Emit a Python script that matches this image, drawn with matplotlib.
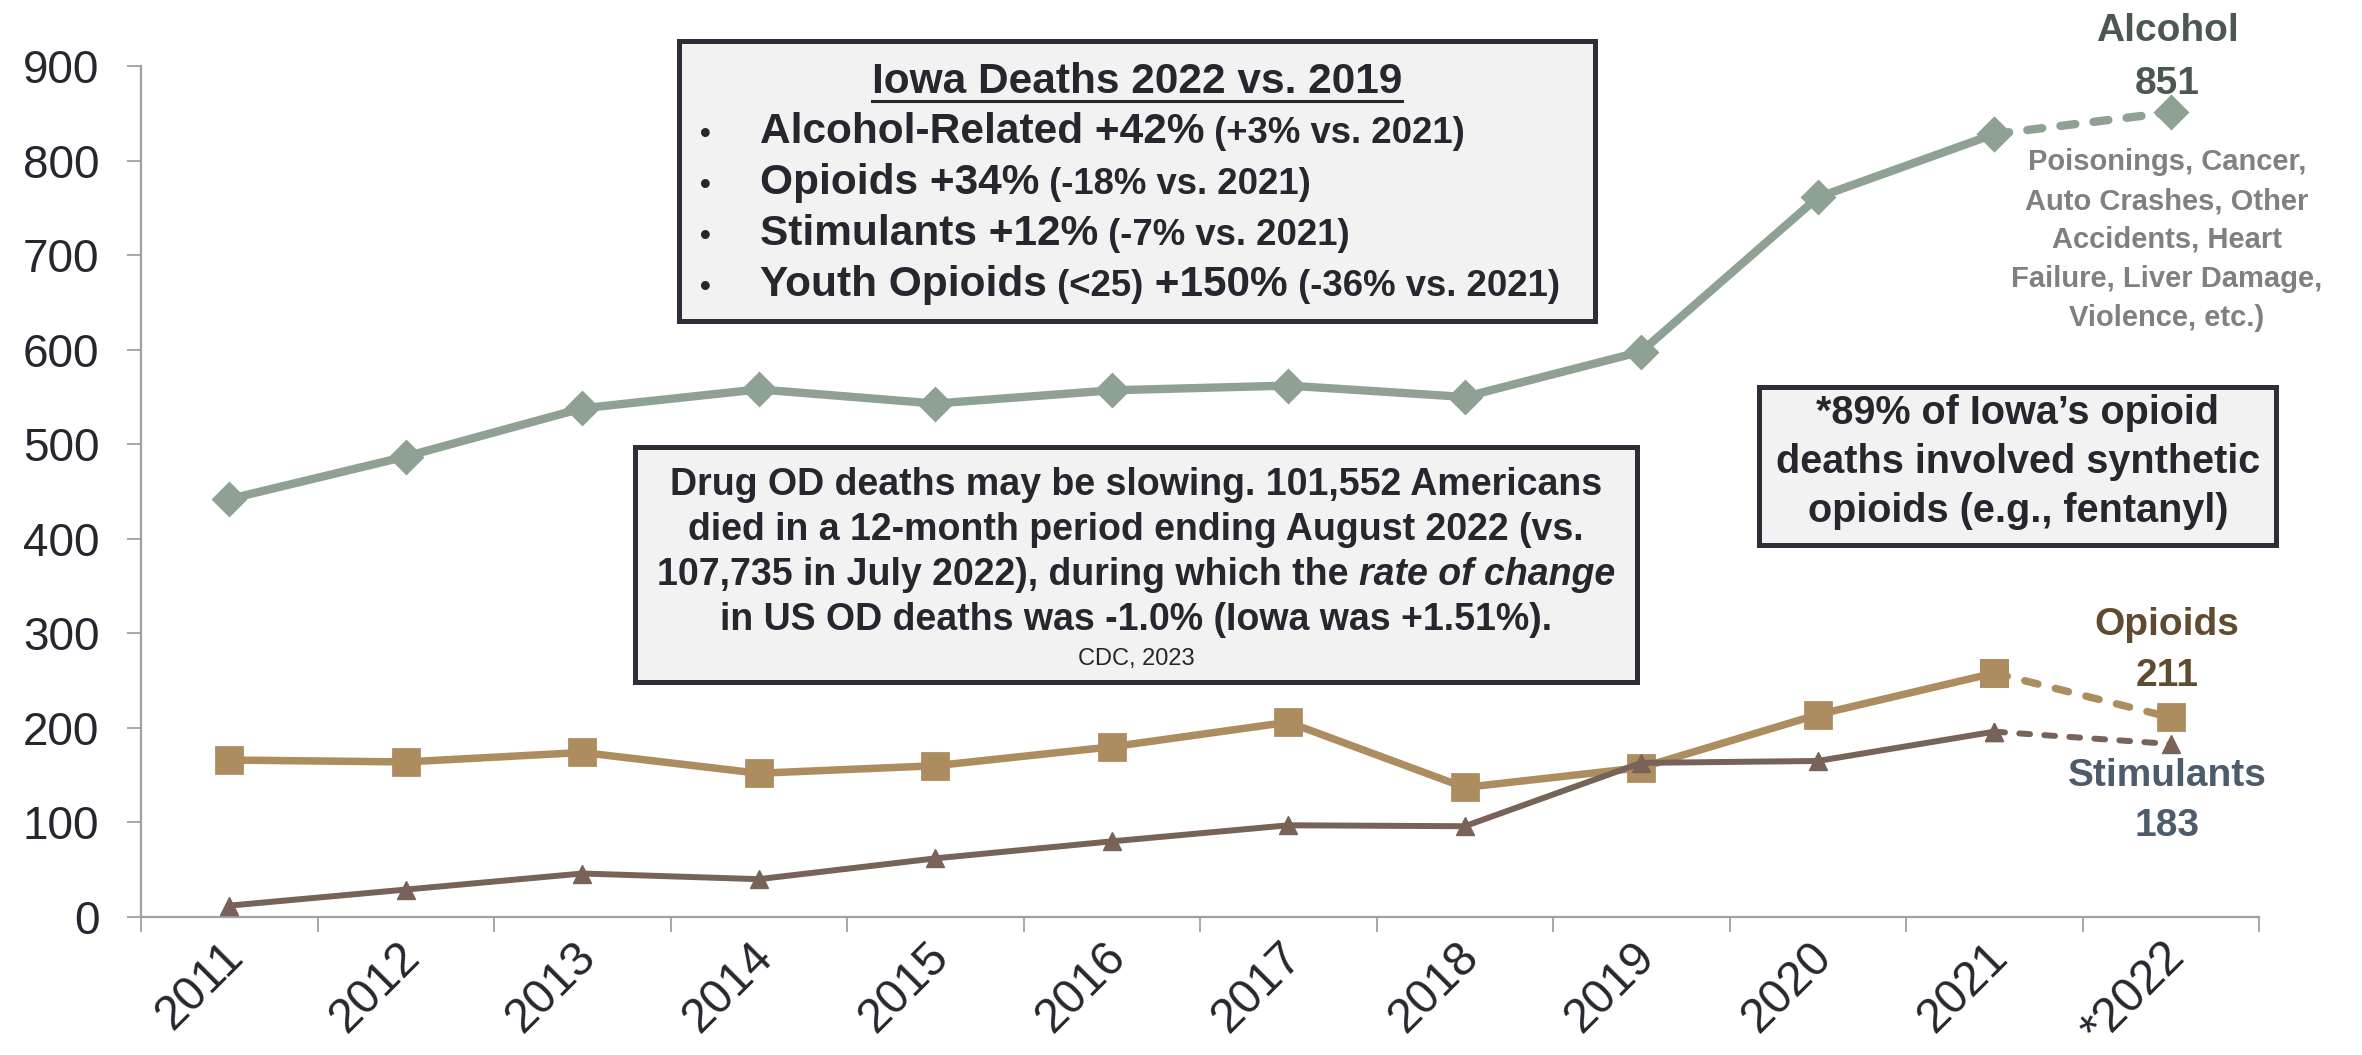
import matplotlib
matplotlib.use("Agg")
import matplotlib.pyplot as plt
from matplotlib import font_manager as fm
from matplotlib.patches import Rectangle
from matplotlib.lines import Line2D
from matplotlib.transforms import IdentityTransform

# Data
years = ['2011', '2012', '2013', '2014', '2015', '2016', '2017', '2018', '2019', '2020', '2021', '*2022']
alcohol = [442, 487, 538, 558, 543, 557, 562, 550, 598, 761, 828, 851]
opioids = [166, 164, 174, 152, 160, 180, 206, 137, 158, 214, 258, 211]
stimulants = [12, 29, 46, 40, 62, 80, 97, 96, 163, 165, 196, 183]
yticks = [0, 100, 200, 300, 400, 500, 600, 700, 800, 900]

W, H = 2362, 1055

def pick(name, fallback):
    try:
        fm.findfont(fm.FontProperties(family=name), fallback_to_default=False)
        return name
    except Exception:
        return fallback

SANS = pick('Liberation Sans', 'DejaVu Sans')
NARROW = pick('Liberation Sans Narrow', SANS)
INK = '#26262f'

c_alc, c_opi, c_sti = '#8ea192', '#ad8d60', '#776358'

fig = plt.figure(figsize=(W / 100, H / 100), dpi=100)
ax = fig.add_axes([141 / W, 1 - 917 / H, (2259 - 141) / W, (917 - 66) / H])

x = list(range(len(years)))
solid = slice(0, 11)
dash = slice(10, 12)

ax.plot(x[solid], alcohol[solid], color=c_alc, lw=6, marker='D', ms=16, mew=2,
        solid_joinstyle='round', zorder=3)
ax.plot(x[dash], alcohol[dash], color=c_alc, lw=6, ls=(0, (1.8, 2.2)), dash_capstyle='round',
        marker='D', ms=16, mew=2, zorder=3)
ax.plot(x[solid], opioids[solid], color=c_opi, lw=5.4, marker='s', ms=19, mew=2,
        solid_joinstyle='round', zorder=3)
ax.plot(x[dash], opioids[dash], color=c_opi, lw=5.4, ls=(0, (1.8, 2.4)), dash_capstyle='round',
        marker='s', ms=19, mew=2, zorder=3)
ax.plot(x[solid], stimulants[solid], color=c_sti, lw=4.3, marker='^', ms=13, mew=1,
        zorder=4)
ax.plot(x[dash], stimulants[dash], color=c_sti, lw=4.3, ls=(0, (1.8, 2.4)), dash_capstyle='round',
        marker='^', ms=13, mew=1, zorder=4)

ax.set_xlim(-0.5, len(years) - 0.5)
ax.set_ylim(0, 900)
ax.set_yticks(yticks)
ax.set_yticklabels([str(v) for v in yticks], fontsize=33, family=SANS, color=INK)
# category boundary ticks, labels hung just right of each category centre
ax.set_xticks([i - 0.5 for i in range(len(years) + 1)], minor=False)
ax.set_xticklabels([''] * (len(years) + 1))
ax.set_xticks([i + 0.13 for i in x], minor=True)
ax.set_xticklabels(years, minor=True, fontsize=34.5, family=SANS, color=INK,
                   rotation=45, ha='right', va='top')
ax.tick_params(axis='x', which='major', length=11, width=1.3, color='#a0a0a0', direction='out')
ax.tick_params(axis='x', which='minor', length=0, pad=12)
ax.tick_params(axis='y', length=10, width=1.3, color='#a0a0a0', pad=20)
for s in ['top', 'right']:
    ax.spines[s].set_visible(False)
for s in ['left', 'bottom']:
    ax.spines[s].set_color('#a0a0a0')
    ax.spines[s].set_linewidth(1.6)

px = IdentityTransform()

def box(x0, y0, x1, y1):
    fig.patches.append(Rectangle((x0, H - y1), x1 - x0, y1 - y0, transform=px,
                                 facecolor='#f2f2f2', edgecolor='#2e2e38', lw=3.6, zorder=5))

def txt(xp, yp, s, **kw):
    kw.setdefault('color', INK)
    return fig.text(xp, H - yp, s, transform=px, zorder=6, **kw)

renderer = fig.canvas.get_renderer()

def runs(xp, yp, parts, center=False):
    # parts: (text, size, weight, style)
    arts = []
    cur = 0
    for s, size, weight, style in parts:
        t = txt(0, yp, s, fontsize=size, fontweight=weight, fontstyle=style,
                family=NARROW, va='baseline', ha='left')
        arts.append((t, cur))
        cur += t.get_window_extent(renderer).width
    start = xp - cur / 2 if center else xp
    for t, off in arts:
        t.set_x(start + off)
    return start, start + cur

# Box 1
box(679, 41, 1595, 321)
t0, t1 = runs(1137, 93, [('Iowa Deaths 2022 vs. 2019', 30.5, 'bold', 'normal')], center=True)
fig.lines.append(Line2D([t0, t1], [H - 101, H - 101], transform=px, color=INK, lw=2.2, zorder=6))
bullets = [
    ('Alcohol-Related +42%', ' (+3% vs. 2021)'),
    ('Opioids +34%', ' (-18% vs. 2021)'),
    ('Stimulants +12%', ' (-7% vs. 2021)'),
    ('Youth Opioids', ' (<25)', ' +150%', ' (-36% vs. 2021)'),
]
for i, parts in enumerate(bullets):
    yb = 143 + 51 * i
    txt(705, yb, '\u2022', fontsize=22, fontweight='bold', family=SANS, va='baseline', ha='center')
    seq = []
    for j, p in enumerate(parts):
        big = not p.startswith(' (')
        seq.append((p, 30.5 if big else 26.3, 'bold', 'normal'))
    runs(760, yb, seq)

# Box 2
box(635, 447, 1637, 682)
runs(1136, 495, [('Drug OD deaths may be slowing. 101,552 Americans', 27, 'bold', 'normal')], center=True)
runs(1136, 540, [('died in a 12-month period ending August 2022 (vs.', 27, 'bold', 'normal')], center=True)
runs(1136, 585, [('107,735 in July 2022), during which the ', 27, 'bold', 'normal'),
                 ('rate of change', 27, 'bold', 'italic')], center=True)
runs(1136, 630, [('in US OD deaths was -1.0% (Iowa was +1.51%).', 27, 'bold', 'normal')], center=True)
runs(1136, 665, [('CDC, 2023', 17, 'normal', 'normal')], center=True)

# Box 3
box(1759, 387, 2276, 545)
for k, line in enumerate(['*89% of Iowa\u2019s opioid', 'deaths involved synthetic',
                          'opioids (e.g., fentanyl)']):
    txt(2018, 424 + 49 * k, line, fontsize=28.5, fontweight='bold', family=SANS,
        ha='center', va='baseline')

# Series end labels
txt(2167, 31, 'Alcohol', fontsize=28, fontweight='bold', family=SANS, color='#4a5850',
    ha='center', va='center')
txt(2167, 84, '851', fontsize=28, fontweight='bold', family=SANS, color='#4a5850',
    ha='center', va='center')
for k, line in enumerate(['Poisonings, Cancer,', 'Auto Crashes, Other', 'Accidents, Heart',
                          'Failure, Liver Damage,', 'Violence, etc.)']):
    txt(2167, 162 + 39 * k, line, fontsize=21, fontweight='bold', family=SANS, color='#808080',
        ha='center', va='center')
txt(2167, 625, 'Opioids', fontsize=28, fontweight='bold', family=SANS, color='#5f4b2f',
    ha='center', va='center')
txt(2167, 676, '211', fontsize=28, fontweight='bold', family=SANS, color='#5f4b2f',
    ha='center', va='center')
txt(2167, 776, 'Stimulants', fontsize=28, fontweight='bold', family=SANS, color='#4d5b6b',
    ha='center', va='center')
txt(2167, 826, '183', fontsize=28, fontweight='bold', family=SANS, color='#4d5b6b',
    ha='center', va='center')

fig.savefig('out.png', dpi=100)
